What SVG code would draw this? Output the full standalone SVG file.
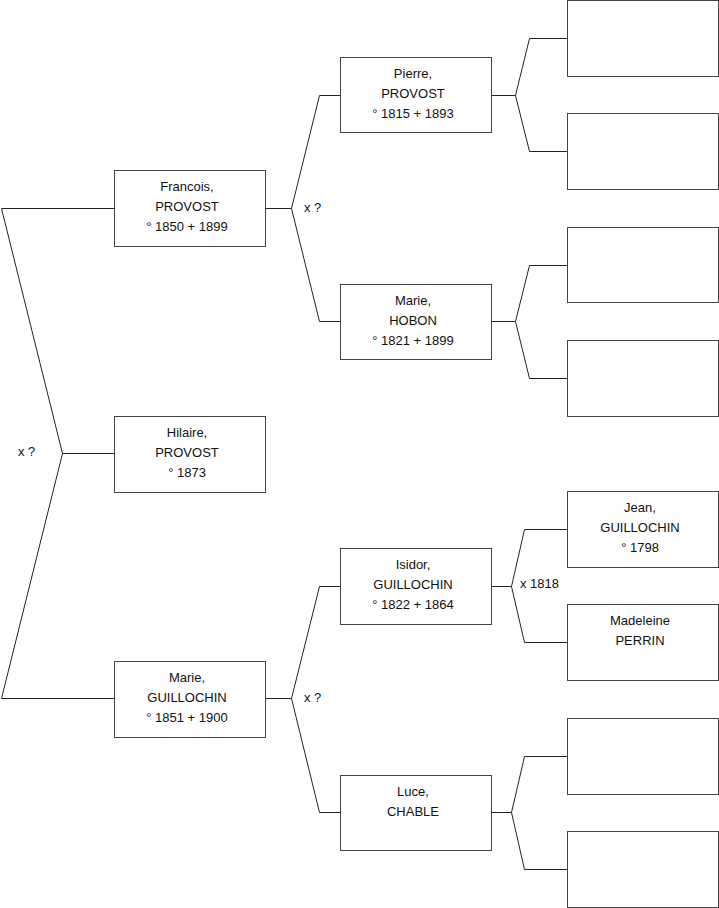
<svg xmlns="http://www.w3.org/2000/svg" width="719" height="908" viewBox="0 0 719 908">
<style>
.b{fill:#fff;stroke:#444;stroke-width:1}
.t{font-family:"Liberation Sans",Arial,sans-serif;font-size:13px;fill:#111;text-anchor:middle}
.l{font-family:"Liberation Sans",Arial,sans-serif;font-size:13px;fill:#111}
.c{fill:none;stroke:#222;stroke-width:1}
</style>
<rect width="719" height="908" fill="#fff"/>
<g id="connectors">
<path class="c" d="M114.5,208.5H1.5L62.5,453.5L1.5,698.5H114.5M62.5,453.5H114.5"/>
<path class="c" d="M265.5,208.5H291.5M340.5,95.5H319.5L291.5,208.5L319.5,321.5H340.5"/>
<path class="c" d="M265.5,698.5H291.5M340.5,586.5H319.5L291.5,698.5L319.5,812.5H340.5"/>
<path class="c" d="M491.5,95.5H515.5M567.5,38.5H529.5L515.5,95.5L529.5,151.5H567.5"/>
<path class="c" d="M491.5,321.5H515.5M567.5,265.5H529.5L515.5,321.5L529.5,378.5H567.5"/>
<path class="c" d="M491.5,586.5H511.5M567.5,529.5H524.5L511.5,586.5L524.5,642.5H567.5"/>
<path class="c" d="M491.5,812.5H511.5M567.5,756.5H524.5L511.5,812.5L524.5,869.5H567.5"/>
<text class="l" x="18" y="456">x ?</text>
<text class="l" x="304" y="212">x ?</text>
<text class="l" x="304" y="702">x ?</text>
<text class="l" x="520" y="588">x 1818</text>
</g>
<g id="francois"><rect class="b" x="114.5" y="170.5" width="151" height="76"/><text class="t" x="187" y="191">Francois,</text><text class="t" x="187" y="211">PROVOST</text><text class="t" x="187" y="231">° 1850 + 1899</text></g>
<g id="hilaire"><rect class="b" x="114.5" y="416.5" width="151" height="76"/><text class="t" x="187" y="437">Hilaire,</text><text class="t" x="187" y="457">PROVOST</text><text class="t" x="187" y="477">° 1873</text></g>
<g id="marie-guillochin"><rect class="b" x="114.5" y="661.5" width="151" height="76"/><text class="t" x="187" y="682">Marie,</text><text class="t" x="187" y="702">GUILLOCHIN</text><text class="t" x="187" y="722">° 1851 + 1900</text></g>
<g id="pierre"><rect class="b" x="340.5" y="57.5" width="151" height="75"/><text class="t" x="413" y="78">Pierre,</text><text class="t" x="413" y="98">PROVOST</text><text class="t" x="413" y="118">° 1815 + 1893</text></g>
<g id="marie-hobon"><rect class="b" x="340.5" y="284.5" width="151" height="75"/><text class="t" x="413" y="305">Marie,</text><text class="t" x="413" y="325">HOBON</text><text class="t" x="413" y="345">° 1821 + 1899</text></g>
<g id="isidor"><rect class="b" x="340.5" y="548.5" width="151" height="76"/><text class="t" x="413" y="569">Isidor,</text><text class="t" x="413" y="589">GUILLOCHIN</text><text class="t" x="413" y="609">° 1822 + 1864</text></g>
<g id="luce"><rect class="b" x="340.5" y="775.5" width="151" height="75"/><text class="t" x="413" y="796">Luce,</text><text class="t" x="413" y="816">CHABLE</text></g>
<g id="r1"><rect class="b" x="567.5" y="0.5" width="151" height="76"/></g>
<g id="r2"><rect class="b" x="567.5" y="113.5" width="151" height="76"/></g>
<g id="r3"><rect class="b" x="567.5" y="227.5" width="151" height="75"/></g>
<g id="r4"><rect class="b" x="567.5" y="340.5" width="151" height="76"/></g>
<g id="jean"><rect class="b" x="567.5" y="491.5" width="151" height="76"/><text class="t" x="640" y="512">Jean,</text><text class="t" x="640" y="532">GUILLOCHIN</text><text class="t" x="640" y="552">° 1798</text></g>
<g id="madeleine"><rect class="b" x="567.5" y="604.5" width="151" height="76"/><text class="t" x="640" y="625">Madeleine</text><text class="t" x="640" y="645">PERRIN</text></g>
<g id="r7"><rect class="b" x="567.5" y="718.5" width="151" height="76"/></g>
<g id="r8"><rect class="b" x="567.5" y="831.5" width="151" height="76"/></g>
</svg>
